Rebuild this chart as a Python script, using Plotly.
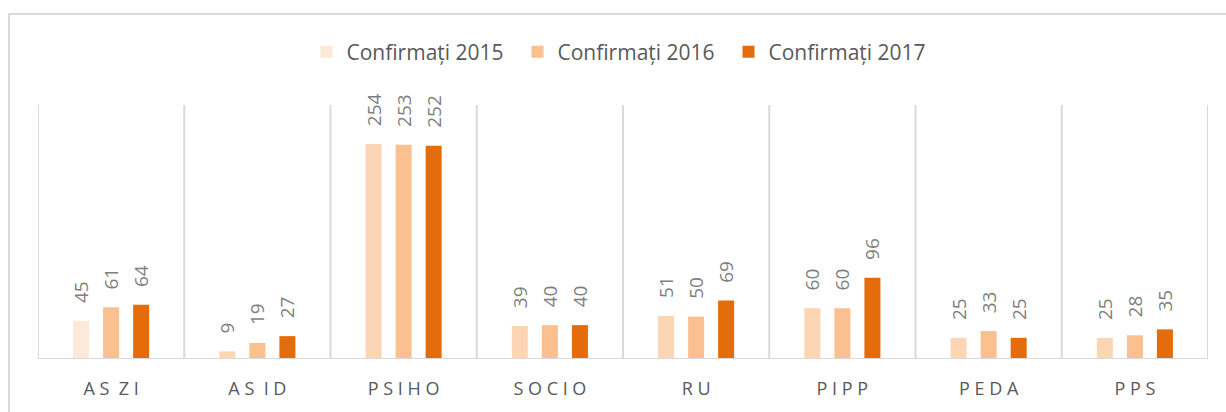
import plotly.graph_objects as go

categories = ["AS ZI", "AS ID", "PSIHO", "SOCIO", "RU", "PIPP", "PEDA", "PPS"]
tick_labels = ["A S\u00a0\u00a0Z I", "A S\u00a0\u00a0I D", "P S I H O", "S O C I O", "R U", "P I P P", "P E D A", "P P S"]
series_names = ["Confirmați 2015", "Confirmați 2016", "Confirmați 2017"]
v2015 = [45, 9, 254, 39, 51, 60, 25, 25]
v2016 = [61, 19, 253, 40, 50, 60, 33, 28]
v2017 = [64, 27, 252, 40, 69, 96, 25, 35]

c2015 = "#FCD5B5"
c2016 = "#FAC090"
c2017 = "#E46C0A"
colors2015 = ["#FDE9D9"] + [c2015] * 7

W, H = 1226, 412
ml, mr, mt, mb = 38, 18, 105, 53
pw, ph = W - ml - mr, H - mt - mb

fig = go.Figure()
label_font = dict(family="Open Sans", size=19, color="#7F7F7F")
pad = "\u00a0\u00a0\u00a0"
for name, vals, col in [(series_names[0], v2015, colors2015),
                        (series_names[1], v2016, c2016),
                        (series_names[2], v2017, c2017)]:
    fig.add_trace(go.Bar(
        name=name, x=categories, y=vals,
        marker=dict(color=col, line=dict(width=0)),
        text=[pad + str(v) for v in vals], textposition="outside", textangle=-90,
        textfont=label_font, constraintext="none", cliponaxis=False,
    ))

shapes = []
# outer chart border
shapes.append(dict(type="rect", xref="paper", yref="paper",
                   x0=(9 - ml) / pw, x1=(W + 20 - ml) / pw,
                   y0=-(H + 20 - mt - ph) / ph, y1=(mt + ph - 14) / ph,
                   line=dict(color="#D9D9D9", width=2), layer="below"))
# category separators
for i in range(len(categories) + 1):
    shapes.append(dict(type="line", xref="x", yref="y", x0=i - 0.5, x1=i - 0.5,
                       y0=0, y1=300, line=dict(color="#D9D9D9", width=2), layer="below"))
# baseline
shapes.append(dict(type="line", xref="x", yref="y", x0=-0.5, x1=len(categories) - 0.5,
                   y0=0, y1=0, line=dict(color="#D9D9D9", width=2), layer="above"))

fig.update_layout(
    width=W, height=H,
    margin=dict(l=ml, r=mr, t=mt, b=mb),
    paper_bgcolor="white", plot_bgcolor="white",
    barmode="group", bargap=0.384, bargroupgap=0.467,
    showlegend=True,
    legend=dict(orientation="h", x=0.5, xanchor="center", y=(ph + mt - 52) / ph, yanchor="middle",
                font=dict(family="Open Sans", size=21, color="#595959"),
                entrywidth=166, entrywidthmode="pixels", itemclick=False),
    shapes=shapes,
    font=dict(family="Open Sans"),
)
fig.update_xaxes(type="category", tickmode="array", tickvals=categories, ticktext=tick_labels,
                 showgrid=False, showline=False, ticks="", range=[-0.5, len(categories) - 0.5],
                 tickfont=dict(family="Open Sans", size=18, color="#595959"), ticklabelstandoff=17)
fig.update_yaxes(range=[0, 300], showgrid=False, showticklabels=False, zeroline=False, showline=False)

fig.write_html("out.html")
